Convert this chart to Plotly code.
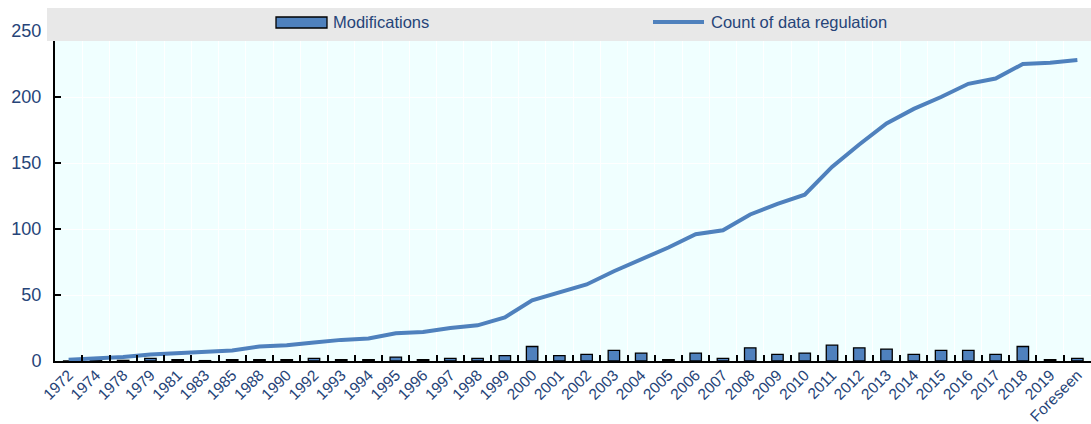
import plotly.graph_objects as go

categories = ["1972", "1974", "1978", "1979", "1981", "1983", "1985", "1988", "1990", "1992",
              "1993", "1994", "1995", "1996", "1997", "1998", "1999", "2000", "2001", "2002",
              "2003", "2004", "2005", "2006", "2007", "2008", "2009", "2010", "2011", "2012",
              "2013", "2014", "2015", "2016", "2017", "2018", "2019", "Foreseen"]
modifications = [0, 0.3, 0.5, 2, 1, 0.3, 1, 1, 1, 2,
                 1, 1, 3, 1, 2, 2, 4, 11, 4, 5,
                 8, 6, 1, 6, 2, 10, 5, 6, 12, 10,
                 9, 5, 8, 8, 5, 11, 1, 2]
count_regulation = [1, 2, 3, 5, 6, 7, 8, 11, 12, 14,
                    16, 17, 21, 22, 25, 27, 33, 46, 52, 58,
                    68, 77, 86, 96, 99, 111, 119, 126, 147, 164,
                    180, 191, 200, 210, 214, 225, 226, 228]

W, H = 1091, 424
L, R, T, B = 55, 0, 31, 63
pw, ph = W - L - R, H - T - B

def px(x):
    return (x - L) / pw

def py(y):
    return (H - B - y) / ph

blue = "#4F81BD"
txt = "#264478"
font_family = "Liberation Sans, Arial, sans-serif"

fig = go.Figure()
fig.add_trace(go.Bar(x=categories, y=modifications, name="Modifications",
                     marker=dict(color=blue, line=dict(color="black", width=1.3)),
                     width=0.42, showlegend=False))
fig.add_trace(go.Scatter(x=categories, y=count_regulation, name="Count of data regulation",
                         mode="lines", line=dict(color=blue, width=4), showlegend=False))

shapes = [
    dict(type="rect", xref="paper", yref="paper", x0=px(47), x1=1.0, y0=py(41), y1=py(8),
         fillcolor="#E8E8E8", line=dict(width=0), layer="above"),
    dict(type="rect", xref="paper", yref="paper", x0=px(276), x1=px(327), y0=py(28), y1=py(17),
         fillcolor=blue, line=dict(color="black", width=1.3), layer="above"),
    dict(type="line", xref="paper", yref="paper", x0=px(653), x1=px(704), y0=py(22), y1=py(22),
         line=dict(color=blue, width=4), layer="above"),
]
annotations = [
    dict(text="Modifications", xref="paper", yref="paper", x=px(331), y=py(22),
         xanchor="left", yanchor="middle", showarrow=False,
         font=dict(size=16.5, color=txt, family=font_family)),
    dict(text="Count of data regulation", xref="paper", yref="paper", x=px(709), y=py(22),
         xanchor="left", yanchor="middle", showarrow=False,
         font=dict(size=16.5, color=txt, family=font_family)),
]

fig.update_layout(
    width=W, height=H,
    margin=dict(l=L, r=R, t=T, b=B, autoexpand=False),
    paper_bgcolor="white",
    plot_bgcolor="#F0FFFF",
    shapes=shapes,
    annotations=annotations,
    font=dict(family=font_family, color=txt, size=17),
)
fig.update_xaxes(
    type="category", tickangle=-45, tickson="boundaries", automargin=False,
    showgrid=True, gridcolor="white", gridwidth=1,
    showline=True, linecolor="black", linewidth=2,
    ticks="inside", ticklen=6, tickcolor="black", tickwidth=1.5,
    tickfont=dict(size=15.5, color=txt, family=font_family),
    ticklabelstandoff=-3,
    range=[-0.5, len(categories) - 0.5],
)
fig.update_yaxes(
    range=[0, 250], dtick=50, automargin=False,
    showgrid=True, gridcolor="white", gridwidth=1,
    showline=True, linecolor="black", linewidth=2,
    ticks="inside", ticklen=6, tickcolor="black", tickwidth=1.5,
    tickfont=dict(size=18, color=txt, family=font_family),
    ticklabelstandoff=8,
    zeroline=False,
)

fig.write_html("out.html", config={"displayModeBar": False},
               post_script="document.body.style.margin='0';document.body.style.overflow='hidden';")
